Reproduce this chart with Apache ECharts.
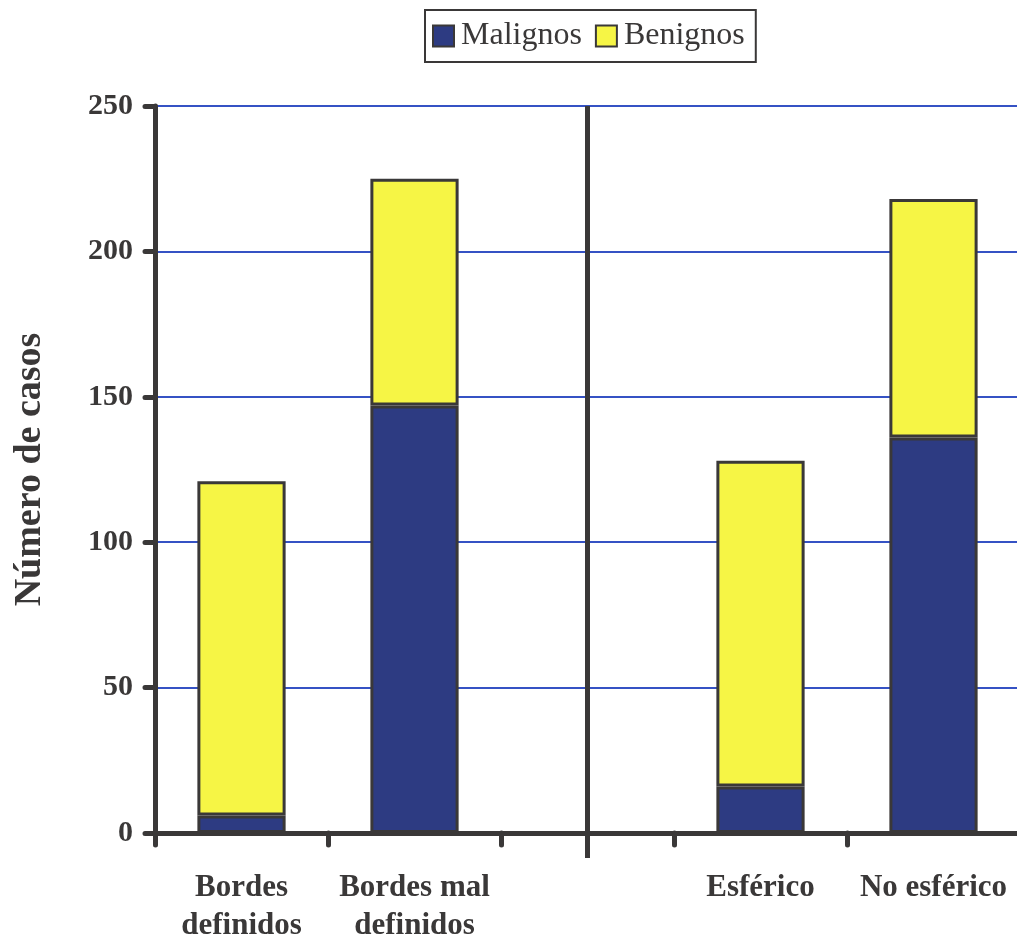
<!DOCTYPE html>
<html>
<head>
<meta charset="utf-8">
<script src="https://cdn.jsdelivr.net/npm/echarts@6/dist/echarts.min.js"></script>
<style>html,body{margin:0;padding:0;background:#fff;}#c{width:1017px;height:940px;}</style>
</head>
<body>
<div id="c"></div>
<script>
const categories = ['Bordes\ndefinidos', 'Bordes mal\ndefinidos', '', 'Esférico', 'No esférico'];
const malignos = [6, 147, null, 16, 136];
const benignos = [115, 78, null, 112, 82];
const separatorCategory = 2;
const yTicks = [0, 50, 100, 150, 200, 250];

const ink = '#3a3838';
const serif = '"Liberation Serif", "Times New Roman", serif';
const chart = echarts.init(document.getElementById('c'));
chart.setOption({
  animation: false,
  backgroundColor: '#fff',
  legend: {
    top: 10, left: 425,
    padding: [10, 11, 10, 7],
    borderColor: ink, borderWidth: 2,
    itemWidth: 21, itemHeight: 21, itemGap: 13,
    icon: 'rect',
    textStyle: {fontFamily: serif, fontSize: 32, color: ink, padding: [2, 0, 0, 2]},
    data: ['Malignos', 'Benignos']
  },
  grid: {left: 155, top: 106, width: 865, height: 727, outerBoundsMode: 'none', containLabel: false},
  xAxis: {
    type: 'category', data: categories,
    axisLine: {lineStyle: {color: ink, width: 5}},
    axisTick: {show: true, interval: 0, alignWithLabel: false, inside: false, length: 12,
               lineStyle: {color: ink, width: 5, cap: 'round'}},
    axisLabel: {fontFamily: serif, fontWeight: 'bold', fontSize: 31, color: ink, margin: 36, lineHeight: 38, interval: 0}
  },
  yAxis: {
    type: 'value', min: yTicks[0], max: yTicks[yTicks.length - 1], interval: 50,
    name: 'Número de casos', nameLocation: 'middle', nameGap: 106,
    nameTextStyle: {fontFamily: serif, fontWeight: 'bold', fontSize: 38, color: ink},
    axisLine: {show: true, lineStyle: {color: ink, width: 5}},
    axisTick: {show: true, length: 10, lineStyle: {color: ink, width: 5, cap: 'round'}},
    axisLabel: {fontFamily: serif, fontWeight: 'bold', fontSize: 30, color: ink, margin: 22},
    splitLine: {lineStyle: {color: '#3552c4', width: 2}}
  },
  series: [
    {name: 'Malignos', type: 'bar', stack: 't', data: malignos, barWidth: '51%',
     itemStyle: {color: '#2d3b82', borderColor: ink, borderWidth: 3}},
    {name: 'Benignos', type: 'bar', stack: 't', data: benignos, barWidth: '51%',
     itemStyle: {color: '#f6f545', borderColor: ink, borderWidth: 3}},
    {type: 'custom', data: [[separatorCategory, 0]], silent: true, z: 5,
     renderItem: function (params, api) {
       const top = api.coord([api.value(0), yTicks[yTicks.length - 1]]);
       const bot = api.coord([api.value(0), 0]);
       return {type: 'line', shape: {x1: top[0], y1: top[1], x2: bot[0], y2: bot[1] + 25},
               style: {stroke: ink, lineWidth: 5}};
     }}
  ]
});
</script>
</body>
</html>
